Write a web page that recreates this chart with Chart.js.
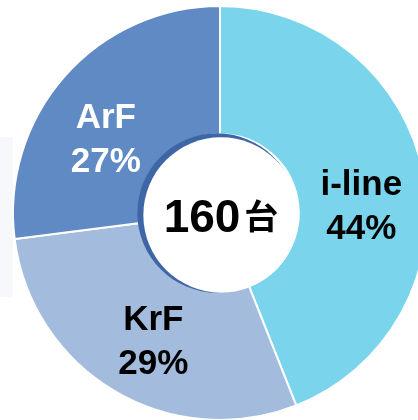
<!DOCTYPE html>
<html>
<head>
<meta charset="utf-8">
<script src="https://cdn.jsdelivr.net/npm/chart.js@4/dist/chart.umd.min.js"></script>
<style>
  html, body { margin: 0; padding: 0; background: #fff; overflow: hidden; }
  #wrap { position: absolute; left: 0; top: 0; width: 440px; height: 426px; }
</style>
</head>
<body>
<div id="wrap"><canvas id="chart"></canvas></div>
<script>
    'use strict';

    // data
    const categories = ['i-line', 'KrF', 'ArF'];
    const shares = [44, 29, 27];
    const totalUnits = 160;
    const totalSuffix = '台';

    const sliceColors = ['#79d4ec', '#a3bbdd', '#5f8ac4'];
    const labelColors = ['#000000', '#000000', '#ffffff'];
    // nudges so labels sit where the reference puts them
    const labelNudge = [[1, 21], [6, 6], [-7, 22]];

    const labelPlugin = {
        id: 'ringLabels',
        beforeDraw(chart) {
            const ctx = chart.ctx;
            ctx.save();
            ctx.fillStyle = '#f7f8fb';
            ctx.fillRect(0, 137, 13, 160);
            ctx.restore();
        },
        afterDatasetsDraw(chart) {
            const ctx = chart.ctx;
            const meta = chart.getDatasetMeta(0);
            const first = meta.data[0];
            const cx = first.x, cy = first.y;
            const inner = first.innerRadius;
            const outer = first.outerRadius;

            // hole with its dark rim on the left
            ctx.save();
            ctx.fillStyle = '#3e66a6';
            ctx.beginPath();
            ctx.arc(cx - 3, cy, inner + 1, 0, Math.PI * 2);
            ctx.fill();
            ctx.fillStyle = '#ffffff';
            ctx.beginPath();
            ctx.arc(cx + 1, cy + 2, inner - 1, 0, Math.PI * 2);
            ctx.fill();

            // slice labels
            ctx.textAlign = 'center';
            ctx.textBaseline = 'middle';
            ctx.font = 'bold 35px "Liberation Sans", Arial, sans-serif';
            meta.data.forEach((arc, i) => {
                const mid = (arc.startAngle + arc.endAngle) / 2;
                const r = (inner + outer) / 2;
                const x = cx + Math.cos(mid) * r + labelNudge[i][0];
                const y = cy + Math.sin(mid) * r + labelNudge[i][1];
                ctx.fillStyle = labelColors[i];
                ctx.fillText(categories[i], x, y - 22);
                ctx.fillText(shares[i] + '%', x, y + 22);
            });

            // centre total
            ctx.fillStyle = '#000000';
            ctx.textBaseline = 'alphabetic';
            ctx.textAlign = 'left';
            ctx.font = 'bold 46px "Liberation Sans", Arial, sans-serif';
            const num = String(totalUnits);
            const numW = ctx.measureText(num).width;
            ctx.font = 'bold 34px "Noto Sans CJK JP", sans-serif';
            const sufW = ctx.measureText(totalSuffix).width;
            const startX = cx + 1 - (numW + sufW + 4) / 2;
            ctx.font = 'bold 46px "Liberation Sans", Arial, sans-serif';
            ctx.fillText(num, startX, cy + 19);
            ctx.font = 'bold 34px "Noto Sans CJK JP", sans-serif';
            ctx.fillText(totalSuffix, startX + numW + 4, cy + 16);
            ctx.restore();
        }
    };

    new Chart(document.getElementById('chart'), {
        type: 'doughnut',
        data: {
            labels: categories,
            datasets: [{
                data: shares,
                backgroundColor: sliceColors,
                borderColor: '#ffffff',
                borderWidth: 2,
                radius: 207
            }]
        },
        options: {
            responsive: true,
            maintainAspectRatio: false,
            animation: false,
            cutout: '38%',
            layout: { padding: 0 },
            plugins: {
                legend: { display: false },
                tooltip: { enabled: false }
            }
        },
        plugins: [labelPlugin]
    });
</script>
</body>
</html>
